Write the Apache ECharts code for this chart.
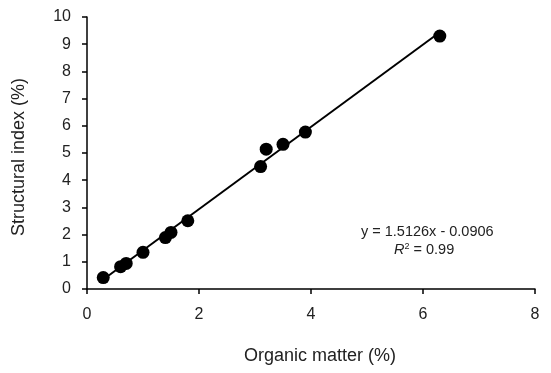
<!DOCTYPE html>
<html>
<head>
<meta charset="utf-8">
<script src="https://cdn.jsdelivr.net/npm/echarts@6/dist/echarts.min.js"></script>
<style>
html, body { margin: 0; padding: 0; background: #fff; }
#main { width: 551px; height: 373px; }
</style>
</head>
<body>
<div id="main"></div>
<script>
// measured points
var organicMatter = [0.29, 0.60, 0.70, 1.00, 1.40, 1.50, 1.80, 3.10, 3.20, 3.50, 3.90, 6.30];
var structuralIndex = [0.42, 0.82, 0.94, 1.35, 1.89, 2.08, 2.51, 4.50, 5.14, 5.32, 5.77, 9.30];
// fitted line
var fitSlope = 1.5126;
var fitIntercept = -0.0906;

var fontName = '"Liberation Sans", Arial, sans-serif';

function showChart(divId) {
	var chart = echarts.init(document.getElementById(divId));
	var option = genOption();
	chart.setOption(option, true);
}

function genOption() {
	var points = organicMatter.map(function (x, i) { return [x, structuralIndex[i]]; });
	var xMin = Math.min.apply(null, organicMatter);
	var xMax = Math.max.apply(null, organicMatter);
	var fitLine = [xMin, xMax].map(function (x) { return [x, fitSlope * x + fitIntercept]; });

	var option = {
		animation : false,
		backgroundColor : '#fff',
		grid : {
			left : 87,
			right : 16,
			top : 17,
			bottom : 84
		},
		xAxis : {
			type : 'value',
			min : 0,
			max : 8,
			interval : 2,
			name : 'Organic matter (%)',
			nameLocation : 'middle',
			nameGap : 58,
			nameTextStyle : { color : '#222', fontSize : 18, fontFamily : fontName, padding : [0, 0, 0, 18] },
			axisLine : { show : true, lineStyle : { color : '#000', width : 1.5 } },
			axisTick : { show : true, length : 5, lineStyle : { color : '#000', width : 1.5 } },
			axisLabel : { color : '#222', fontSize : 16, fontFamily : fontName, margin : 18 },
			splitLine : { show : false }
		},
		yAxis : {
			type : 'value',
			min : 0,
			max : 10,
			interval : 1,
			name : 'Structural index (%)',
			nameLocation : 'middle',
			nameGap : 59,
			nameTextStyle : { color : '#222', fontSize : 18, fontFamily : fontName, padding : [0, 8, 0, 0] },
			axisLine : { show : true, lineStyle : { color : '#000', width : 1.5 } },
			axisTick : { show : true, length : 5, lineStyle : { color : '#000', width : 1.5 } },
			axisLabel : { color : '#222', fontSize : 16, fontFamily : fontName, margin : 16 },
			splitLine : { show : false }
		},
		graphic : [ {
			type : 'text',
			left : 361,
			top : 224,
			style : {
				text : 'y = 1.5126x - 0.0906',
				fill : '#222',
				font : '14.5px ' + fontName
			}
		}, {
			type : 'text',
			left : 394,
			top : 242,
			style : {
				text : '{i|R}{s|2} = 0.99',
				fill : '#222',
				font : '14.5px ' + fontName,
				rich : {
					i : { fontStyle : 'italic', fontSize : 14.5, fontFamily : fontName, fill : '#222' },
					s : { fontSize : 9, fontFamily : fontName, verticalAlign : 'top', padding : [0, 0, 6, 0], fill : '#222' }
				}
			}
		} ],
		series : [ {
			name : 'fit',
			type : 'line',
			data : fitLine,
			symbol : 'none',
			lineStyle : { color : '#000', width : 2 },
			z : 1
		}, {
			name : 'data',
			type : 'scatter',
			data : points,
			symbol : 'circle',
			symbolSize : 13,
			itemStyle : { color : '#000', opacity : 1 },
			z : 2
		} ]
	};
	return option;
}

showChart('main');
</script>
</body>
</html>
